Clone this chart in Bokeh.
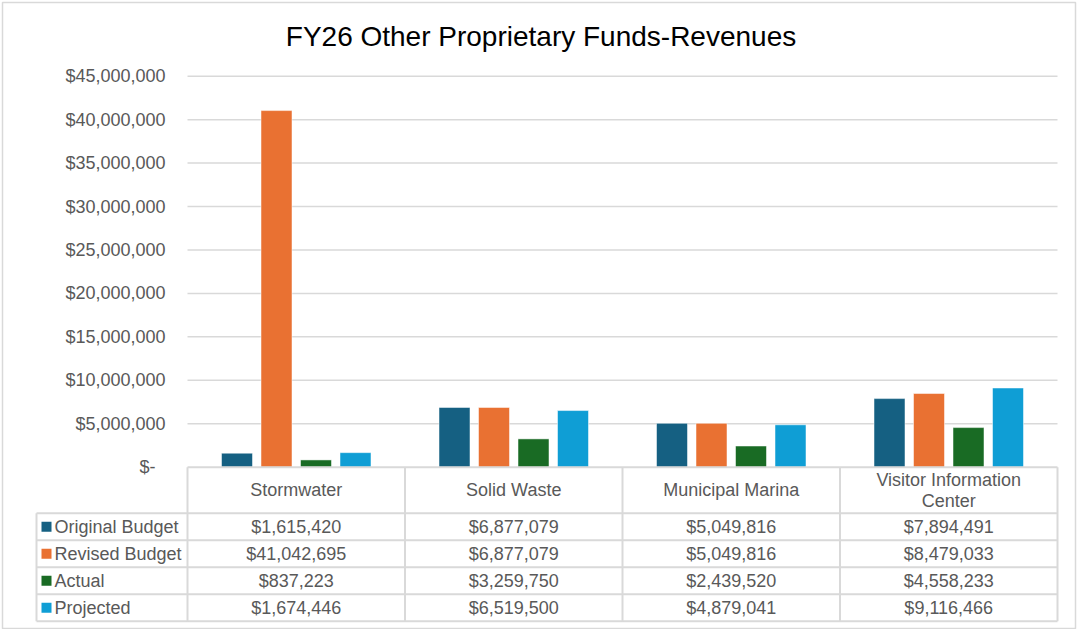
from bokeh.plotting import figure
from bokeh.models import Range1d, LinearAxis, FixedTicker
from bokeh.core.properties import value
from bokeh.embed import file_html
from bokeh.resources import INLINE

# ---------------- data ----------------
title_text = "FY26 Other Proprietary Funds-Revenues"
categories = ["Stormwater", "Solid Waste", "Municipal Marina", "Visitor Information\nCenter"]
series_names = ["Original Budget", "Revised Budget", "Actual", "Projected"]
original_budget = [1615420, 6877079, 5049816, 7894491]
revised_budget = [41042695, 6877079, 5049816, 8479033]
actual = [837223, 3259750, 2439520, 4558233]
projected = [1674446, 6519500, 4879041, 9116466]
y_ticks = [0, 5000000, 10000000, 15000000, 20000000, 25000000, 30000000, 35000000, 40000000, 45000000]
y_tick_labels = ["$-\u00a0\u00a0", "$5,000,000", "$10,000,000", "$15,000,000", "$20,000,000",
                 "$25,000,000", "$30,000,000", "$35,000,000", "$40,000,000", "$45,000,000"]
colors = ["#156082", "#E97132", "#196B24", "#0F9ED5"]
series = [original_budget, revised_budget, actual, projected]

# ---------------- layout (canvas pixels) ----------------
W, H = 1077, 629
F_L, F_R, F_T, F_B = 2, 1075, 2, 628   # frame edges on the canvas
COL_W = 217.5          # pixels per category column
X_CAT0_LEFT = 187      # canvas x of left edge of first category column
X_TABLE_LEFT = 36      # canvas x of left edge of legend column
Y_ZERO = 466.7         # canvas y of value 0
Y_TOP = 75.7           # canvas y of top tick
PX_PER_DOLLAR = (Y_ZERO - Y_TOP) / y_ticks[-1]
ROW_LINES = [512.7, 539.7, 566.7, 593.7, 620.7]   # header bottom, row bottoms
HEADER_MID = (Y_ZERO + ROW_LINES[0]) / 2


def dx(cx):
    return -0.5 + (cx - X_CAT0_LEFT) / COL_W


def dy(cy):
    return (Y_ZERO - cy) / PX_PER_DOLLAR


n = len(categories)
FONT = value("Liberation Sans")
GRAY = "#595959"
LINE = "#d9d9d9"

p = figure(width=W, height=H, output_backend="svg", toolbar_location=None,
           x_range=Range1d(dx(F_L), dx(F_R)), y_range=Range1d(dy(F_B), dy(F_T)),
           x_axis_location=None, y_axis_location=None, title=None,
           min_border_left=F_L, min_border_right=W - F_R,
           min_border_top=F_T, min_border_bottom=H - F_B)
p.xgrid.visible = False
p.ygrid.visible = False
p.outline_line_color = LINE
p.outline_line_width = 1.5
p.background_fill_color = "white"
p.border_fill_color = "white"

# y axis at the left edge of the category area
yaxis = LinearAxis(fixed_location=-0.5, ticker=FixedTicker(ticks=y_ticks),
                   major_label_overrides={t: l for t, l in zip(y_ticks, y_tick_labels)},
                   axis_line_color=None, major_tick_line_color=None, minor_tick_line_color=None,
                   major_tick_in=0, major_tick_out=0, major_label_standoff=22,
                   major_label_text_font="Liberation Sans", major_label_text_font_size="18px",
                   major_label_text_color=GRAY)
p.add_layout(yaxis, "left")

# gridlines
grid_y = y_ticks[1:]
p.segment(x0=[-0.5] * len(grid_y), x1=[n - 0.5] * len(grid_y), y0=grid_y, y1=grid_y,
          line_color=LINE, line_width=1.5)

# bars
pitch = 39.5 / COL_W
bar_w = 31 / COL_W
for j, (name, vals, col) in enumerate(zip(series_names, series, colors)):
    xs = [i + (j - 1.5) * pitch for i in range(n)]
    p.vbar(x=xs, top=vals, bottom=0, width=bar_w, fill_color=col,
           line_color="white", line_alpha=0.5, line_width=1)

# data table lines
xl = dx(X_TABLE_LEFT)
p.segment(x0=[-0.5], x1=[n - 0.5], y0=[0], y1=[0], line_color=LINE, line_width=2)
ys = [dy(c) for c in ROW_LINES]
p.segment(x0=[xl] * len(ys), x1=[n - 0.5] * len(ys), y0=ys, y1=ys, line_color=LINE, line_width=2)
vx = [i - 0.5 for i in range(n + 1)]
p.segment(x0=vx, x1=vx, y0=[0] * len(vx), y1=[ys[-1]] * len(vx), line_color=LINE, line_width=2)
p.segment(x0=[xl], x1=[xl], y0=[ys[0]], y1=[ys[-1]], line_color=LINE, line_width=2)

# header text
p.text(x=list(range(n)), y=[dy(HEADER_MID)] * n, text=categories,
       text_font=FONT, text_font_size="18px", text_color=GRAY,
       text_align="center", text_baseline="middle", text_line_height=1.05)

# value cells
row_mid = [(ROW_LINES[k] + ROW_LINES[k + 1]) / 2 for k in range(len(series))]
for j, vals in enumerate(series):
    p.text(x=list(range(n)), y=[dy(row_mid[j])] * n, text=[f"${v:,}" for v in vals],
           text_font=FONT, text_font_size="18px", text_color=GRAY,
           text_align="center", text_baseline="middle")

# legend column: swatches + names
p.scatter(x=[dx(X_TABLE_LEFT + 10)] * len(series), y=[dy(c) for c in row_mid], marker="square",
          size=10, fill_color=colors, line_color=None)
p.text(x=[dx(X_TABLE_LEFT + 18)] * len(series), y=[dy(c) for c in row_mid], text=series_names,
       text_font=FONT, text_font_size="18px", text_color=GRAY,
       text_align="left", text_baseline="middle")

# title
p.text(x=[dx(540.5)], y=[dy(35.5)], text=[title_text], text_font=FONT, text_font_size="28px",
       text_color="#000000", text_align="center", text_baseline="middle")

open("out.html", "w").write(file_html(p, INLINE))
